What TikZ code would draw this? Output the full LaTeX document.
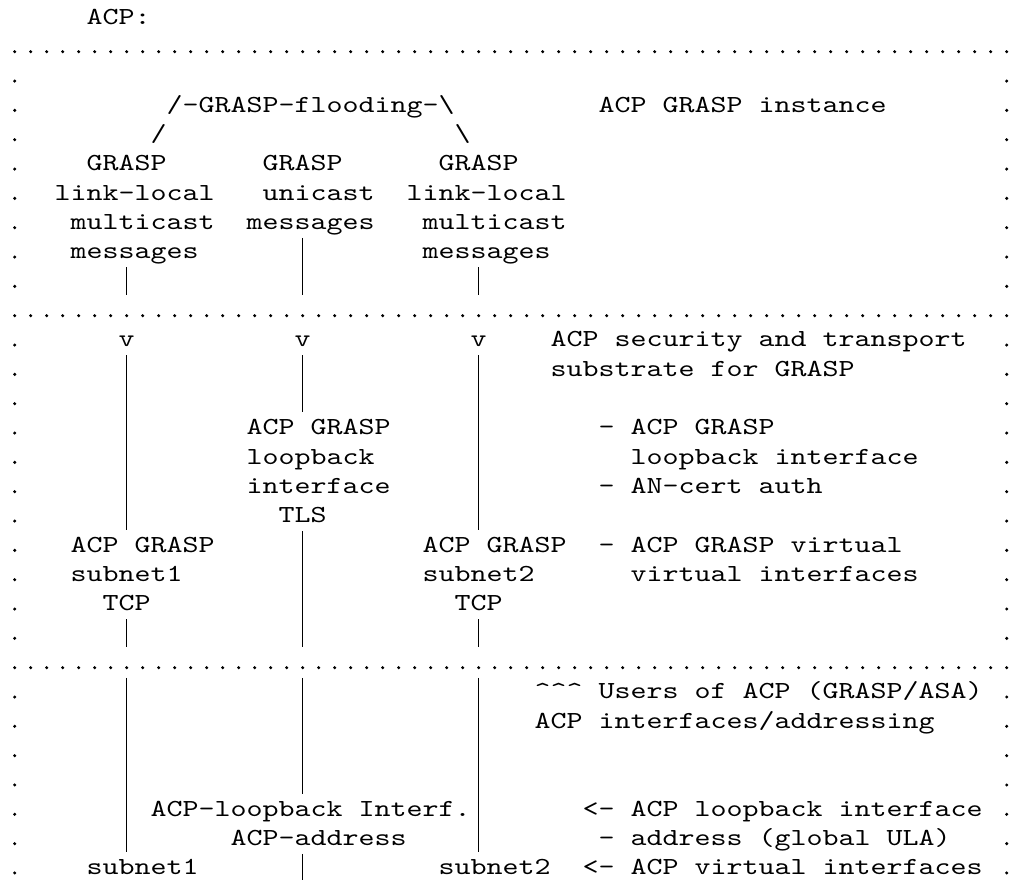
\documentclass[tikz,border=0pt]{standalone}
\usepackage{fontspec}
\newfontfamily\asciifont{lmmono10-regular}[Extension=.otf, FakeStretch=1.2439]
\begin{document}
\begin{tikzpicture}
\useasboundingbox (0,0) rectangle (1012pt,-879pt);
\fill[white] (0,0) rectangle (1012pt,-879pt);
\tikzset{
  asc/.style={anchor=base west, inner sep=0pt, outer sep=0pt,
    font=\asciifont\fontsize{24.5pt}{29pt}\selectfont, text=black},
  pipe/.style={draw=black, line width=1.1pt},
  dotmark/.style={fill=black}
}
% (column, row) grid of the character cells
\begin{scope}[x=16pt, y=-29.33pt, shift={(6.7pt,5.13pt)}]
\newcommand\txt[4]{\node[asc] (#1) at (#2,#3) {#4};}
\newcommand\vrun[4]{%
  \coordinate[yshift=21pt] (#1-top) at (#2+0.5,#3);
  \coordinate[yshift=-7pt] (#1-bot) at (#2+0.5,#4);
  \draw[pipe] (#1-top) -- (#1-bot);}

% dotted frame: three full rows and the two side columns
\foreach \r in {2,11,23}
  \foreach \c in {0,...,62}
    \fill[dotmark] (\c+0.5,\r) ++(0,1.8pt) circle (1.7pt);
\foreach \r in {3,...,10,12,13,...,22,24,25,...,30} {
  \fill[dotmark] (0.5,\r) ++(0,1.8pt) circle (1.7pt);
  \fill[dotmark] (62.5,\r) ++(0,1.8pt) circle (1.7pt);
}

\txt{title}{5}{1}{ACP:}

% GRASP instance
\txt{flood}{10}{4}{/-GRASP-flooding-\textbackslash}
\txt{instlbl}{37}{4}{ACP GRASP instance}
\txt{slashL}{9}{5}{/}
\txt{slashR}{28}{5}{\textbackslash}
\txt{gA1}{5}{6}{GRASP}
\txt{gB1}{16}{6}{GRASP}
\txt{gC1}{27}{6}{GRASP}
\txt{gA2}{3}{7}{link-local}
\txt{gB2}{16}{7}{unicast}
\txt{gC2}{25}{7}{link-local}
\txt{gA3}{4}{8}{multicast}
\txt{gB3}{15}{8}{messages}
\txt{gC3}{26}{8}{multicast}
\txt{gA4}{4}{9}{messages}
\txt{gC4}{26}{9}{messages}

% security and transport substrate
\txt{vA}{7}{12}{v}
\txt{vB}{18}{12}{v}
\txt{vC}{29}{12}{v}
\txt{secA}{34}{12}{ACP security and transport}
\txt{secB}{34}{13}{substrate for GRASP}
\txt{lbA}{15}{15}{ACP GRASP}
\txt{lbB}{15}{16}{loopback}
\txt{lbC}{15}{17}{interface}
\txt{lbD}{17}{18}{TLS}
\txt{noteA}{37}{15}{- ACP GRASP}
\txt{noteB}{39}{16}{loopback interface}
\txt{noteC}{37}{17}{- AN-cert auth}
\txt{snA1}{4}{19}{ACP GRASP}
\txt{snA2}{4}{20}{subnet1}
\txt{snA3}{6}{21}{TCP}
\txt{snC1}{26}{19}{ACP GRASP}
\txt{snC2}{26}{20}{subnet2}
\txt{snC3}{28}{21}{TCP}
\txt{noteD}{37}{19}{- ACP GRASP virtual}
\txt{noteE}{39}{20}{virtual interfaces}

% ACP interfaces and addressing
\txt{usrA}{33}{24}{\textasciicircum\textasciicircum\textasciicircum{} Users of ACP (GRASP/ASA)}
\txt{usrB}{33}{25}{ACP interfaces/addressing}
\txt{loopA}{9}{28}{ACP-loopback Interf.}
\txt{loopB}{14}{29}{ACP-address}
\txt{noteF}{36}{28}{<- ACP loopback interface}
\txt{noteG}{37}{29}{- address (global ULA)}
\txt{ifA}{5}{30}{subnet1}
\txt{ifC}{27}{30}{subnet2}
\txt{noteH}{36}{30}{<- ACP virtual interfaces}

% vertical connectors
\vrun{a1}{7}{10}{10}
\vrun{a2}{7}{13}{18}
\vrun{a3}{7}{22}{22}
\vrun{a4}{7}{24}{29}
\vrun{b1}{18}{9}{10}
\vrun{b2}{18}{13}{14}
\vrun{b3}{18}{19}{22}
\vrun{b4}{18}{24}{27}
\vrun{b5}{18}{30}{30}
\vrun{c1}{29}{10}{10}
\vrun{c2}{29}{13}{18}
\vrun{c3}{29}{22}{22}
\vrun{c4}{29}{24}{29}
\end{scope}
\end{tikzpicture}
\end{document}
